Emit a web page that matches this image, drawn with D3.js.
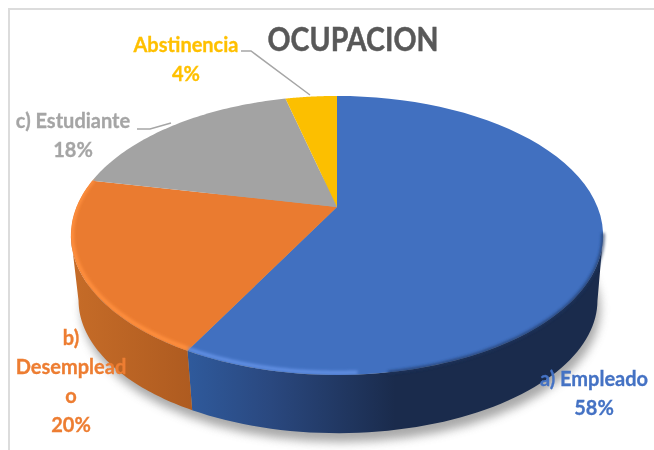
<!DOCTYPE html>
<html><head><meta charset="utf-8">
<script src="https://cdn.jsdelivr.net/npm/d3@7"></script>
<style>html,body{margin:0;padding:0;background:#fff}svg{display:block}</style>
</head><body><svg id="c" width="654" height="450"></svg>
<script>
const title = "OCUPACION";
const categories = ["a) Empleado","b) Desempleado","c) Estudiante","Abstinencia"];
const values = [57.8,20.49,17.9,3.81];
const colors = ["#4170c0","#ea7b30","#a3a3a3","#fcbf00"];
const textColors = ["#4472c4","#ed7d31","#a5a5a5","#ffc000"];
const sideLeft = ["#2f5a9c","#c66c28","#8a8a8a","#c79500"];
const sideRight = ["#1a2b4c","#ae5b20","#7a7a7a","#b08500"];
const labelLines = [["a) Empleado"],["b)","Desemplead","o"],["c) Estudiante"],["Abstinencia"]];
const labelAnchors = [[594,386],[71,345],[73,128],[186,52]];

const svg = d3.select("#c");
const defs = svg.append("defs");
const blur = (id,s)=>defs.append("filter").attr("id",id).attr("x","-20%").attr("y","-20%").attr("width","140%").attr("height","140%").append("feGaussianBlur").attr("stdDeviation",s);
blur("b6",5); blur("b2",1.6);
defs.append("filter").attr("id","soft").append("feGaussianBlur").attr("stdDeviation",0.45);

// perspective disc: maps a pie angle to the page
const k = -0.204;
const top_ = {cx:337, cy:207, sx:260.5, sy:133.7};
const bot = {cx:338, cy:273, sx:254, sy:127.5};
const proj = (d,a)=>{const u=Math.sin(a),v=-Math.cos(a),w=1+k*v;return [d.cx+d.sx*u/w,d.cy+d.sy*v/w];};
const angles = (a0,a1)=>d3.range(0,61).map(i=>a0+(a1-a0)*i/60);
const line = d3.line();
const pie = d3.pie().sort(null)(values);
const full = [0,2*Math.PI];
const widest = Math.acos(-0.208); // angle of the disc's widest point

// frame
svg.append("path").attr("d","M9,450V9H654").attr("stroke","#dcdcdc").attr("stroke-width",2).attr("fill","none");

// ground shadow
svg.append("path").attr("d",line(angles(...full).map(a=>{const p=proj(bot,a);return [p[0]+3,p[1]+9];}))+"Z")
  .attr("fill","#8c8c8c").attr("opacity",.75).attr("filter","url(#b6)");

// walls
const sideFront = [[widest,pie[0].endAngle],[pie[0].endAngle,2*Math.PI-widest]];
sideFront.forEach((r,i)=>{
  const id="g"+i;
  const pts=angles(r[0],r[1]).map(a=>proj(top_,a)), ptb=angles(r[0],r[1]).map(a=>proj(bot,a));
  const xs=pts.concat(ptb).map(p=>p[0]);
  const g=defs.append("linearGradient").attr("id",id).attr("gradientUnits","userSpaceOnUse")
    .attr("x1",d3.min(xs)).attr("x2",d3.max(xs)).attr("y1",0).attr("y2",0);
  if(i===0){
    g.append("stop").attr("offset",0).attr("stop-color",sideLeft[0]);
    g.append("stop").attr("offset",.2).attr("stop-color","#2a487f");
    g.append("stop").attr("offset",.5).attr("stop-color",sideRight[0]);
    g.append("stop").attr("offset",1).attr("stop-color",sideRight[0]);
  } else {
    g.append("stop").attr("offset",0).attr("stop-color",sideLeft[1]);
    g.append("stop").attr("offset",1).attr("stop-color",sideRight[1]);
  }
  svg.append("path").attr("d",line(pts.concat(ptb.reverse()))+"Z").attr("fill",`url(#${id})`);
});

// top face
const clip = defs.append("clipPath").attr("id","disc");
clip.append("path").attr("d",line(angles(...full).map(a=>proj(top_,a)))+"Z");
pie.forEach((d,i)=>{
  const pts=[[top_.cx,top_.cy]].concat(angles(d.startAngle,d.endAngle).map(a=>proj(top_,a)));
  svg.append("path").attr("d",line(pts)+"Z").attr("fill",colors[i]);
});

// bevel on the rim
const rim = svg.append("g").attr("fill","none");
const inset = {cx:top_.cx,cy:top_.cy-1,sx:top_.sx-1,sy:top_.sy-1};
rim.append("path").attr("d",line(angles(Math.PI*0.98,pie[0].endAngle).map(a=>proj(inset,a))))
  .attr("stroke","#6492e6").attr("stroke-width",3.5).attr("filter","url(#b2)").attr("clip-path","url(#disc)");
rim.append("path").attr("d",line(angles(pie[0].endAngle,pie[1].endAngle).map(a=>proj(inset,a))))
  .attr("stroke","#ff8f3e").attr("stroke-width",4).attr("filter","url(#b2)").attr("clip-path","url(#disc)");
rim.append("path").attr("d",line(angles(Math.PI*0.56,Math.PI*0.95).map(a=>proj(top_,a))))
  .attr("stroke","#1f3560").attr("stroke-width",3).attr("opacity",.8).attr("filter","url(#b2)");

// leader lines
const leaders = svg.append("g").attr("stroke","#a6a6a6").attr("stroke-width",1.5).attr("fill","none");
leaders.append("path").attr("d",line([[137,129],[150,129],[171,123]]));
leaders.append("path").attr("d",line([[241,51],[251,51],[310,95]]));

// labels
const lab = svg.append("g").attr("font-family","Lato, Carlito, sans-serif").attr("font-weight",700).attr("filter","url(#soft)");
labelLines.forEach((ls,i)=>{
  const t=lab.append("text").attr("text-anchor","middle").attr("fill",textColors[i]).attr("font-size",20).attr("stroke",textColors[i]).attr("stroke-width",.3);
  ls.concat(`${Math.round(values[i])}%`).forEach((s,j)=>t.append("tspan").attr("x",labelAnchors[i][0]).attr("y",labelAnchors[i][1]+j*29).text(s));
});
lab.append("text").attr("x",353).attr("y",51).attr("text-anchor","middle").attr("fill","#595959").attr("stroke","#595959").attr("stroke-width",.5)
  .attr("font-size",32).attr("textLength",171).attr("lengthAdjust","spacingAndGlyphs").text(title);
</script></body></html>
